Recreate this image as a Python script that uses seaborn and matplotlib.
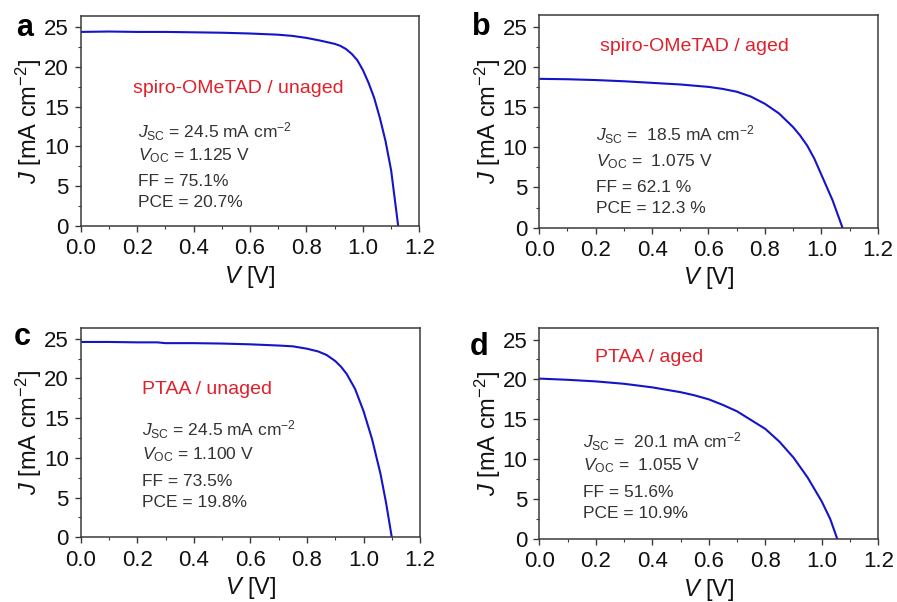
import matplotlib
matplotlib.use("Agg")
import matplotlib.pyplot as plt
from matplotlib.ticker import MultipleLocator
import pandas as pd
import seaborn as sns

# J-V sweeps (V in volts, J in mA cm^-2)
v_spiro_unaged = [0.0, 0.1, 0.2, 0.3, 0.4, 0.5, 0.6, 0.7, 0.75, 0.8, 0.85, 0.9, 0.92, 0.94,
                  0.96, 0.98, 1.0, 1.02, 1.04, 1.06, 1.08, 1.1, 1.125]
j_spiro_unaged = [24.4, 24.45, 24.4, 24.4, 24.35, 24.3, 24.2, 24.05, 23.9, 23.65, 23.3, 22.9, 22.65, 22.25,
                  21.65, 20.85, 19.6, 18.0, 16.1, 13.6, 10.7, 7.0, 0.0]

v_spiro_aged = [0.0, 0.1, 0.2, 0.3, 0.4, 0.5, 0.6, 0.65, 0.7, 0.75, 0.8, 0.85, 0.9, 0.925,
                0.95, 0.975, 1.0, 1.02, 1.04, 1.075]
j_spiro_aged = [18.5, 18.45, 18.35, 18.2, 18.0, 17.8, 17.5, 17.25, 16.9, 16.3, 15.4, 14.2, 12.5, 11.45,
                10.2, 8.6, 6.6, 5.0, 3.4, 0.0]

v_ptaa_unaged = [0.0, 0.1, 0.2, 0.27, 0.3, 0.4, 0.5, 0.6, 0.7, 0.75, 0.8, 0.84, 0.87, 0.9, 0.92, 0.94,
                 0.97, 1.0, 1.03, 1.06, 1.08, 1.1]
j_ptaa_unaged = [24.6, 24.6, 24.55, 24.55, 24.45, 24.45, 24.4, 24.3, 24.15, 24.05, 23.75, 23.4, 22.95, 22.2, 21.5, 20.6,
                 18.7, 15.9, 12.4, 8.0, 4.3, 0.0]

v_ptaa_aged = [0.0, 0.1, 0.2, 0.3, 0.4, 0.5, 0.55, 0.6, 0.65, 0.7, 0.8, 0.85, 0.9, 0.95, 1.0, 1.03, 1.055]
j_ptaa_aged = [20.1, 19.95, 19.75, 19.45, 19.0, 18.4, 18.0, 17.5, 16.8, 16.0, 13.8, 12.2, 10.2, 7.7, 4.7, 2.5, 0.0]

panel_letters = ["a", "b", "c", "d"]
sample_names = ["spiro-OMeTAD / unaged", "spiro-OMeTAD / aged", "PTAA / unaged", "PTAA / aged"]
jsc_text = ["24.5", " 18.5", "24.5", " 20.1"]
voc_text = ["1.125", " 1.075", "1.100", " 1.055"]
ff_text = ["75.1%", "62.1 %", "73.5%", "51.6%"]
pce_text = ["20.7%", "12.3 %", "19.8%", "10.9%"]

x_ticks = [0.0, 0.2, 0.4, 0.6, 0.8, 1.0, 1.2]
y_ticks = [0, 5, 10, 15, 20, 25]

sns.set_theme(style="ticks")
plt.rcParams["font.family"] = ["Liberation Sans", "DejaVu Sans"]
plt.rcParams["mathtext.fontset"] = "custom"
plt.rcParams["mathtext.rm"] = "Liberation Sans"
plt.rcParams["mathtext.it"] = "Liberation Sans:italic"
plt.rcParams["mathtext.bf"] = "Liberation Sans:bold"

curves = [(v_spiro_unaged, j_spiro_unaged), (v_spiro_aged, j_spiro_aged),
          (v_ptaa_unaged, j_ptaa_unaged), (v_ptaa_aged, j_ptaa_aged)]

fig = plt.figure(figsize=(8.97, 6.02), dpi=100)

# axes rectangles [left, bottom, width, height] in figure fractions
rects = [[0.090, 0.6246, 0.3775, 0.3488],
         [0.6012, 0.6218, 0.3773, 0.3528],
         [0.090, 0.1075, 0.3783, 0.3482],
         [0.6012, 0.1047, 0.3779, 0.3499]]

# text placement in axes fractions: (name_x, name_y, stats_x, stats line ys)
name_pos = [(0.154, 0.657), (0.180, 0.852), (0.180, 0.706), (0.164, 0.862)]
stats_pos = [(0.170, [0.448, 0.333, 0.210, 0.110]),
             (0.168, [0.436, 0.311, 0.188, 0.088]),
             (0.180, [0.512, 0.393, 0.265, 0.167]),
             (0.130, [0.462, 0.348, 0.220, 0.119])]
letter_pos = [(0.018, 0.940), (0.526, 0.942), (0.015, 0.427), (0.524, 0.410)]

frame_color = "#3a3a3a"
text_gray = "#333333"
red = "#e0202a"
blue = "#1414c8"

for i, (v, j) in enumerate(curves):
    ax = fig.add_axes(rects[i])
    df = pd.DataFrame({"V": v, "J": j})
    sns.lineplot(data=df, x="V", y="J", ax=ax, color=blue, linewidth=1.5,
                 sort=False, estimator=None)
    ax.set_xlim(0, 1.2)
    ax.set_ylim(0, 26.4)
    ax.set_xticks(x_ticks)
    ax.set_yticks(y_ticks)
    ax.set_xticklabels([f"{t:.1f}" for t in x_ticks])
    ax.set_yticklabels([str(t) for t in y_ticks])
    ax.xaxis.set_minor_locator(MultipleLocator(0.1))
    ax.yaxis.set_minor_locator(MultipleLocator(2.5))
    ax.tick_params(which="major", direction="out", length=4, width=1.0,
                   color=frame_color, labelsize=16, labelcolor="#111111")
    ax.tick_params(axis="x", which="major", pad=5)
    ax.tick_params(axis="y", which="major", pad=4.5)
    ax.tick_params(which="minor", direction="out", length=2.5, width=0.8,
                   color=frame_color)
    ax.tick_params(top=False, right=False, which="both")
    for s in ax.spines.values():
        s.set_color(frame_color)
        s.set_linewidth(1.1)
        s.set_visible(True)
    ax.set_xlabel(r"$V$ [V]", fontsize=17, color="#111111", labelpad=3)
    ax.set_ylabel(r"$J$ [mA cm$^{-2}$]", fontsize=17, color="#111111", labelpad=0)

    ax.text(name_pos[i][0], name_pos[i][1], sample_names[i], transform=ax.transAxes,
            color=red, fontsize=14, ha="left", va="center")
    sx, sys_ = stats_pos[i]
    lines = [r"$J_{\rm SC}$ = " + jsc_text[i] + r" mA cm$^{-2}$",
             r"$V_{\rm OC}$ = " + voc_text[i] + " V",
             "FF = " + ff_text[i],
             "PCE = " + pce_text[i]]
    for line, y in zip(lines, sys_):
        ax.text(sx, y, line, transform=ax.transAxes, color=text_gray,
                fontsize=12.5, ha="left", va="center")

    fig.text(letter_pos[i][0], letter_pos[i][1], panel_letters[i], fontsize=22,
             fontweight="bold", color="black", ha="left", va="baseline")

fig.savefig("out.png", dpi=100, facecolor="white")
